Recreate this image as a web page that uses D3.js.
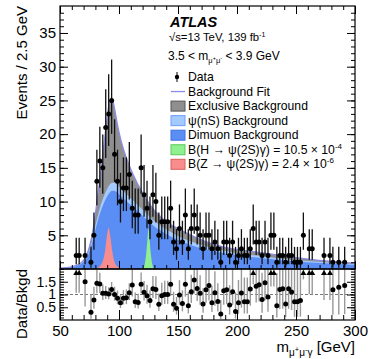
<!DOCTYPE html>
<html>
<head>
<meta charset="utf-8">
<title>ATLAS psi(2S) gamma</title>
<script src="https://d3js.org/d3.v7.min.js"></script>
<style>
    body { margin: 0; background: white; }
    text { font-family: "Liberation Sans", Arial, Helvetica, sans-serif; fill: black; }
</style>
</head>
<body>
<svg width="374" height="359"></svg>
<script>
// ---- data ----
// bin centres (2.5 GeV bins from 50 to 300)
const binCentres = d3.range(51.25, 300, 2.5);

// events per bin
const counts = [
    0, 0, 0, 0, 0,   2, 2, 0, 2, 0,
    1, 5, 13, 16, 15, 21, 23, 25, 17, 13,
    10, 12, 12, 14, 9, 8, 8, 15, 11, 9,
    7, 11, 10, 5, 7,  7, 7, 9, 4, 3,
    6, 4, 8, 3, 6,   8, 6, 5, 3, 5,
    5, 3, 4, 3, 1,   4, 4, 2, 4, 1,
    2, 3, 2, 2, 3,   6, 4, 4, 2, 4,
    2, 5, 5, 1, 2,   2, 1, 2, 2, 1,
    1, 1, 5, 0, 3,   3, 0, 0, 0, 2,
    0, 2, 1, 0, 1,   0, 1, 0, 0, 0
];

// data / background (null = nothing drawn, > 2 = off scale)
const ratio = [
    null, null, null, null, null, 3.0, 3.0, null, 1.5, null,
    0.3, 0.78, 1.44, 1.41, 1.05, 1.05, 1.02, 1.2, 1.0, 0.85,
    0.68, 0.85, 0.87, 1.07, 1.37, 0.72, 0.69, 1.4, 1.09, 0.95,
    0.76, 1.23, 1.2, 0.62, 0.95, 1.0, 1.0, 1.4, 0.62, 0.46,
    0.98, 0.65, 1.4, 0.56, 1.11, 1.57, 1.24, 1.05, 0.63, 1.19,
    1.35, 0.68, 1.07, 0.73, 0.24, 1.15, 1.19, 0.59, 1.11, 0.33,
    0.68, 1.06, 0.72, 0.72, 1.22, 2.3, 1.32, 1.38, 0.8, 1.46,
    0.9, 2.3, 2.3, 0.56, 1.2, 1.23, 0.63, 1.23, 1.1, 0.72,
    0.72, 0.76, 2.8, null, 2.2, 2.2, null, null, null, 2.2,
    null, 2.2, 1.19, null, 1.28, null, 1.35, null, null, null
];

// background model, sampled along the mass axis
const bkgMass = [50, 55, 60, 63, 66, 69, 72, 75, 78, 81, 84, 87, 90, 92, 94, 96, 98, 100,
    103, 106, 110, 115, 120, 126, 130, 135, 140, 150, 160, 176, 190, 200, 222, 250, 275, 300];
const dimuonBkg = [0.1, 0.15, 0.25, 0.4, 0.6, 0.9, 1.5, 2.6, 4.4, 6.5, 8.3, 9.7, 10.8, 11.3, 11.6, 11.6, 11.4, 11.1,
    10.6, 10.1, 9.5, 8.7, 7.9, 6.9, 6.3, 5.7, 5.2, 4.3, 3.6, 2.8, 2.3, 2.0, 1.6, 1.1, 0.85, 0.6];
const psiBkg = [0.01, 0.02, 0.03, 0.05, 0.07, 0.1, 0.15, 0.3, 0.5, 0.7, 0.9, 1.0, 1.1, 1.2, 1.2, 1.2, 1.2, 1.15,
    1.1, 1.05, 1.0, 0.95, 0.9, 0.85, 0.8, 0.75, 0.7, 0.6, 0.55, 0.45, 0.4, 0.35, 0.3, 0.2, 0.15, 0.1];
const exclusiveBkg = [0.04, 0.03, 0.02, 0.05, 0.08, 0.1, 0.25, 0.4, 0.9, 2.3, 4.3, 7.3, 10.6, 12.3, 12.5, 11.2, 9.4, 8.05,
    6.5, 5.45, 4.3, 3.25, 2.5, 1.85, 1.6, 1.35, 1.1, 1.1, 0.95, 0.65, 0.5, 0.55, 0.5, 0.4, 0.2, 0.15];

// signal shapes (drawn from zero)
const zMass = [80, 83, 85, 87, 88.5, 90, 91.2, 92.5, 94, 95.5, 97, 99, 102, 105];
const zSignal = [0.05, 0.3, 0.7, 1.6, 3.0, 5.2, 6.1, 5.0, 3.0, 1.5, 0.7, 0.3, 0.1, 0];
const hMass = [120, 121.5, 123, 124, 125, 126, 127, 128.5, 130];
const hSignal = [0, 0.5, 2.2, 4.2, 6.0, 4.2, 2.2, 0.5, 0];

const mainTicks = [5, 10, 15, 20, 25, 30, 35];
const ratioTicks = [0.5, 1, 1.5];
const massTicks = [50, 100, 150, 200, 250, 300];

// ---- layout ----
const svg = d3.select("svg");
const padL = 60, padR = 355, padT = 6, padM = 269, padB = 320;

const x = d3.scaleLinear().domain([50, 300]).range([padL, padR]);
const y = d3.scaleLinear().domain([0, 39]).range([padM, padT]);
const yr = d3.scaleLinear().domain([0, 2]).range([padB, padM]);

svg.append("rect").attr("width", 374).attr("height", 359).attr("fill", "white");

const defs = svg.append("defs");
defs.append("clipPath").attr("id", "clipMain")
    .append("rect").attr("x", padL).attr("y", padT).attr("width", padR - padL).attr("height", padM - padT);
defs.append("clipPath").attr("id", "clipRatio")
    .append("rect").attr("x", padL).attr("y", padM).attr("width", padR - padL).attr("height", padB - padM);

// ---- stacked backgrounds ----
const bkgRows = bkgMass.map((m, i) => ({ m: m, dimuon: dimuonBkg[i], psi: psiBkg[i], excl: exclusiveBkg[i] }));
const stack = d3.stack().keys(["dimuon", "psi", "excl"])(bkgRows);
const colours = { dimuon: "#5b8ef5", psi: "#a3cbff", excl: "#8f8f8f" };

const plot = svg.append("g").attr("clip-path", "url(#clipMain)");

// draw top layer first so the lower layers sit over its base
stack.slice().reverse().forEach(layer => {
    plot.append("path")
        .attr("d", d3.area().x(d => x(d.data.m)).y0(y(0)).y1(d => y(d[1])).curve(d3.curveMonotoneX)(layer))
        .attr("fill", colours[layer.key]);
});

// background fit line
plot.append("path")
    .datum(stack[2])
    .attr("d", d3.line().x(d => x(d.data.m)).y(d => y(d[1])).curve(d3.curveMonotoneX))
    .attr("fill", "none")
    .attr("stroke", "#8c8ce6")
    .attr("stroke-width", 1.3);

// signals
const sigArea = (ms) => d3.area().x((d, i) => x(ms[i])).y0(y(0)).y1(d => y(d)).curve(d3.curveMonotoneX);
plot.append("path").attr("d", sigArea(zMass)(zSignal)).attr("fill", "#f98d8d");
plot.append("path").attr("d", sigArea(hMass)(hSignal)).attr("fill", "#8ff08f");

// ---- data points ----
// Poisson (Gehrels) 68% intervals
function lowerLim(n) { return n === 0 ? 0 : n * Math.pow(1 - 1 / (9 * n) - 1 / (3 * Math.sqrt(n)), 3); }
function upperLim(n) { return (n + 1) * Math.pow(1 - 1 / (9 * (n + 1)) + 1 / (3 * Math.sqrt(n + 1)), 3); }

const points = binCentres.map((m, i) => ({ m: m, n: counts[i], r: ratio[i] }));
const filled = points.filter(d => d.n > 0);

plot.selectAll(".err").data(filled).enter().append("line")
    .attr("x1", d => x(d.m)).attr("x2", d => x(d.m))
    .attr("y1", d => y(lowerLim(d.n))).attr("y2", d => y(upperLim(d.n)))
    .attr("stroke", "#111").attr("stroke-width", 1.3);
plot.selectAll(".pt").data(filled).enter().append("circle")
    .attr("cx", d => x(d.m)).attr("cy", d => y(d.n)).attr("r", 2.5)
    .attr("fill", "black");

// ---- ratio panel ----
const rplot = svg.append("g").attr("clip-path", "url(#clipRatio)");
rplot.append("line")
    .attr("x1", padL).attr("x2", padR).attr("y1", yr(1)).attr("y2", yr(1))
    .attr("stroke", "#777").attr("stroke-dasharray", "3,2").attr("stroke-width", 1);

const rpts = points.filter(d => d.r !== null && d.n > 0);
rplot.selectAll(".rerr").data(rpts).enter().append("line")
    .attr("x1", d => x(d.m)).attr("x2", d => x(d.m))
    .attr("y1", d => yr(d.r * lowerLim(d.n) / d.n)).attr("y2", d => yr(d.r * upperLim(d.n) / d.n))
    .attr("stroke", "#999").attr("stroke-width", 1.4);
rplot.selectAll(".rpt").data(rpts.filter(d => d.r <= 2)).enter().append("circle")
    .attr("cx", d => x(d.m)).attr("cy", d => yr(d.r)).attr("r", 2.5)
    .attr("fill", "black");
rplot.selectAll(".over").data(rpts.filter(d => d.r > 2)).enter().append("path")
    .attr("d", d => `M${x(d.m) - 3},${padM + 6}L${x(d.m) + 3},${padM + 6}L${x(d.m)},${padM + 1}Z`)
    .attr("fill", "black");

// ---- frames and ticks ----
function tickAxis(axis, tx, ty, vals, len, fmt) {
    const g = svg.append("g").attr("transform", `translate(${tx},${ty})`)
        .call(axis.tickValues(vals).tickSize(-len).tickFormat(fmt || ""));
    g.select(".domain").remove();
    g.selectAll("line").attr("stroke", "black");
    return g;
}
const minorX = d3.range(50, 301, 10);

// main panel
tickAxis(d3.axisLeft(y), padL, 0, d3.range(0, 39, 1), 4);
tickAxis(d3.axisLeft(y), padL, 0, mainTicks, 8, d3.format("d"))
    .call(g => g.selectAll("text").attr("x", -4).style("font-size", "15px"));
tickAxis(d3.axisRight(y), padR, 0, d3.range(0, 39, 1), 4);
tickAxis(d3.axisRight(y), padR, 0, mainTicks, 8);
tickAxis(d3.axisTop(x), 0, padT, minorX, 4);
tickAxis(d3.axisTop(x), 0, padT, massTicks, 8);
tickAxis(d3.axisBottom(x), 0, padM, minorX, 4);
tickAxis(d3.axisBottom(x), 0, padM, massTicks, 8);

// ratio panel
tickAxis(d3.axisLeft(yr), padL, 0, d3.range(0.1, 2, 0.1), 4);
tickAxis(d3.axisLeft(yr), padL, 0, ratioTicks, 8, d3.format(""))
    .call(g => g.selectAll("text").attr("x", -4).style("font-size", "14px"));
tickAxis(d3.axisRight(yr), padR, 0, d3.range(0.1, 2, 0.1), 4);
tickAxis(d3.axisRight(yr), padR, 0, ratioTicks, 8);
tickAxis(d3.axisBottom(x), 0, padB, minorX, 5);
tickAxis(d3.axisBottom(x), 0, padB, massTicks, 10, d3.format("d"))
    .call(g => g.selectAll("text").attr("y", 5).style("font-size", "15px"));

svg.selectAll(".tick text").attr("fill", "black");

svg.append("rect").attr("x", padL).attr("y", padT).attr("width", padR - padL).attr("height", padM - padT)
    .attr("fill", "none").attr("stroke", "black").attr("stroke-width", 1.2);
svg.append("rect").attr("x", padL).attr("y", padM).attr("width", padR - padL).attr("height", padB - padM)
    .attr("fill", "none").attr("stroke", "black").attr("stroke-width", 1.2);

// ---- axis titles ----
svg.append("text")
    .attr("transform", "translate(27,6) rotate(-90)")
    .attr("text-anchor", "end").style("font-size", "15px")
    .text("Events / 2.5 GeV");
svg.append("text")
    .attr("transform", "translate(27,269) rotate(-90)")
    .attr("text-anchor", "end").style("font-size", "15px")
    .text("Data/Bkgd");

const xt = svg.append("text").attr("x", padR).attr("y", 352).attr("text-anchor", "end").style("font-size", "15px");
xt.append("tspan").text("m");
xt.append("tspan").attr("dy", 4).style("font-size", "10px").text("μ");
xt.append("tspan").attr("dy", -4).style("font-size", "7.5px").text("+");
xt.append("tspan").attr("dy", 4).style("font-size", "10px").text("μ");
xt.append("tspan").attr("dy", -4).style("font-size", "7.5px").text("-");
xt.append("tspan").attr("dy", 4).style("font-size", "10px").text("γ");
xt.append("tspan").attr("dy", -4).text(" [GeV]");

// ---- labels and legend ----
svg.append("text").attr("x", 170).attr("y", 26.5)
    .style("font-size", "14.5px").style("font-weight", "bold").style("font-style", "italic")
    .text("ATLAS");

const l2 = svg.append("text").attr("x", 169).attr("y", 41).style("font-size", "11.3px");
l2.append("tspan").text("√s=13 TeV, 139 fb");
l2.append("tspan").attr("dy", -4).style("font-size", "7px").text("-1");

const l3 = svg.append("text").attr("x", 168).attr("y", 60).style("font-size", "12px");
l3.append("tspan").text("3.5 < m");
l3.append("tspan").attr("dy", 3).style("font-size", "7.5px").text("μ");
l3.append("tspan").attr("dy", -3).style("font-size", "5.5px").text("+");
l3.append("tspan").style("font-size", "7.5px").attr("dy", 3).text("μ");
l3.append("tspan").attr("dy", -3).style("font-size", "5.5px").text("-");
l3.append("tspan").attr("dy", 0).text(" < 3.9 GeV");

const legendItems = [
    { label: "Data", kind: "data" },
    { label: "Background Fit", kind: "line", colour: "#8c8ce6" },
    { label: "Exclusive Background", kind: "box", colour: "#8f8f8f", edge: "#555" },
    { label: "ψ(nS) Background", kind: "box", colour: "#a3cbff", edge: "#6f9cff" },
    { label: "Dimuon Background", kind: "box", colour: "#5b8ef5", edge: "#3f70e0" },
    { label: "B(H → ψ(2S)γ) = 10.5 × 10", sup: "-4", kind: "box", colour: "#8ff08f", edge: "#5cc75c" },
    { label: "B(Z → ψ(2S)γ) = 2.4 × 10", sup: "-6", kind: "box", colour: "#f98d8d", edge: "#d86060" }
];
const legendY = 81, legendStep = 14.55, legendX = 171;
legendItems.forEach((it, i) => {
    const by = legendY + i * legendStep;
    if (it.kind === "data") {
        svg.append("line").attr("x1", legendX + 6).attr("x2", legendX + 6).attr("y1", by - 9).attr("y2", by + 1)
            .attr("stroke", "black").attr("stroke-width", 1);
        svg.append("circle").attr("cx", legendX + 6).attr("cy", by - 4).attr("r", 2.2).attr("fill", "black");
    } else if (it.kind === "line") {
        svg.append("line").attr("x1", legendX).attr("x2", legendX + 14).attr("y1", by - 4).attr("y2", by - 4)
            .attr("stroke", it.colour).attr("stroke-width", 1.3);
    } else {
        svg.append("rect").attr("x", legendX).attr("y", by - 9).attr("width", 14).attr("height", 10)
            .attr("fill", it.colour).attr("stroke", it.edge).attr("stroke-width", 1);
    }
    const t = svg.append("text").attr("x", legendX + 17).attr("y", by).style("font-size", "12.2px");
    t.append("tspan").text(it.label);
    if (it.sup) t.append("tspan").attr("dy", -5).style("font-size", "8px").text(it.sup);
});
</script>
</body>
</html>
